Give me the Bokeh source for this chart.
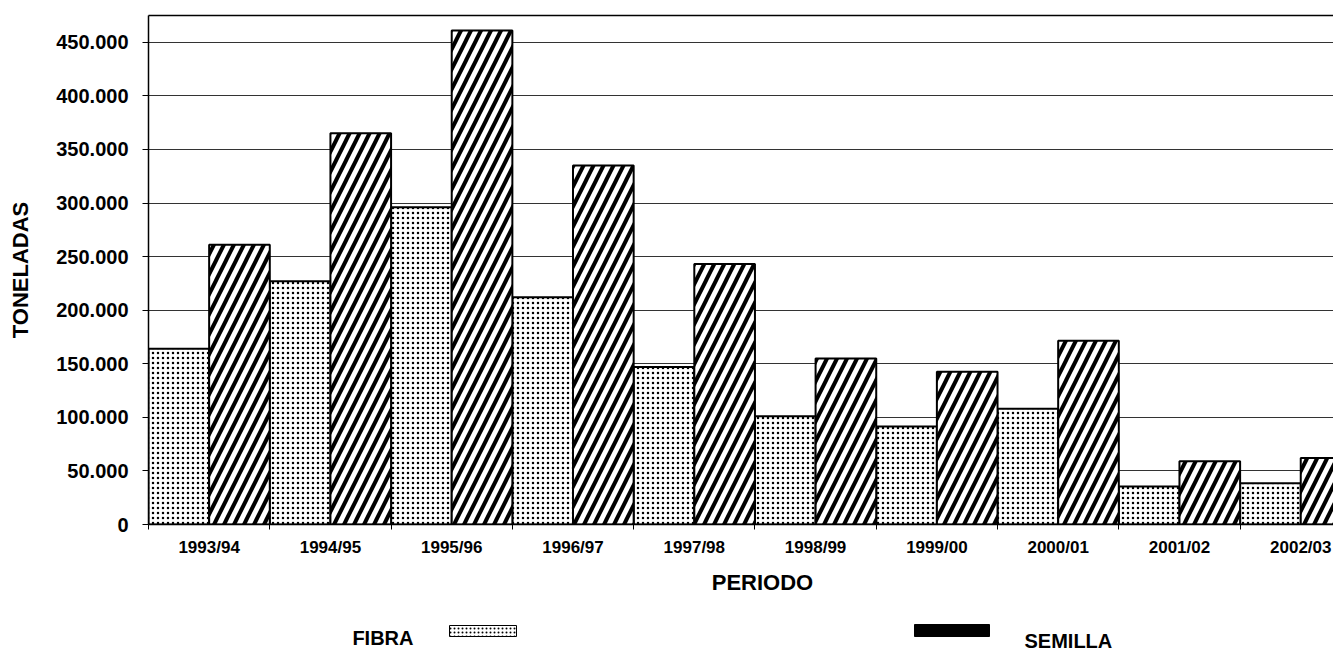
from bokeh.plotting import figure
from bokeh.models import Range1d, FixedTicker, LinearAxis
from bokeh.layouts import column
from bokeh.embed import file_html
from bokeh.resources import INLINE
from bokeh.core.properties import value

periodos = ["1993/94", "1994/95", "1995/96", "1996/97", "1997/98",
            "1998/99", "1999/00", "2000/01", "2001/02", "2002/03"]
fibra = [164000, 227000, 296000, 212000, 147000, 101000, 91500, 108000, 35500, 38500]
semilla = [261000, 365000, 461000, 335000, 243000, 155000, 142500, 171500, 59000, 62000]
y_ticks = [0, 50000, 100000, 150000, 200000, 250000, 300000, 350000, 400000, 450000]
y_tick_labels = ["0", "50.000", "100.000", "150.000", "200.000", "250.000",
                 "300.000", "350.000", "400.000", "450.000"]
x_title = "PERIODO"
y_title = "TONELADAS"
legend_labels = ["FIBRA", "SEMILLA"]

FONT = "Liberation Sans"

n = len(periodos)
idx = list(range(n))

p = figure(width=1333, height=570, output_backend="svg", toolbar_location=None,
           x_range=Range1d(0, 9.77), y_range=Range1d(0, 475000),
           min_border_left=148, min_border_right=0, min_border_top=15, min_border_bottom=46)
p.outline_line_color = None
p.background_fill_color = "white"
p.border_fill_color = "white"

# bars
p.quad(left=[i for i in idx], right=[i + 0.5 for i in idx], bottom=0, top=fibra,
       fill_color="white", line_color="black", line_width=2,
       hatch_pattern="dot", hatch_color="black", hatch_scale=5, hatch_weight=0.5)
p.quad(left=[i + 0.5 for i in idx], right=[i + 1 for i in idx], bottom=0, top=semilla,
       fill_color="white", line_color="black", line_width=2,
       hatch_pattern="right_diagonal_line", hatch_color="black", hatch_scale=20, hatch_weight=4)

# x axis
xa = p.xaxis[0]
xa.ticker = FixedTicker(ticks=[i + 0.5 for i in idx], minor_ticks=list(range(n + 1)))
xa.major_label_overrides = {i + 0.5: periodos[i] for i in idx}
xa.major_tick_out = 0
xa.major_tick_in = 0
xa.minor_tick_out = 5
xa.minor_tick_in = 0
xa.minor_tick_line_color = "black"
xa.axis_line_color = "black"
xa.axis_line_width = 1.5
xa.major_label_text_font = FONT
xa.major_label_text_font_style = "bold"
xa.major_label_text_font_size = "17px"
xa.major_label_text_color = "black"
xa.major_label_standoff = 8

# y axis
ya = p.yaxis[0]
ya.ticker = FixedTicker(ticks=y_ticks, minor_ticks=[])
ya.major_label_overrides = {t: l for t, l in zip(y_ticks, y_tick_labels)}
ya.major_tick_out = 6
ya.major_tick_in = 0
ya.major_tick_line_color = "black"
ya.axis_line_color = "black"
ya.axis_line_width = 1.5
ya.major_label_text_font = FONT
ya.major_label_text_font_style = "bold"
ya.major_label_text_font_size = "20px"
ya.major_label_text_color = "black"
ya.major_label_standoff = 14
ya.axis_label = y_title
ya.axis_label_text_font = FONT
ya.axis_label_text_font_style = "bold"
ya.axis_label_text_font_size = "22px"
ya.axis_label_text_color = "black"
ya.axis_label_standoff = 20

# top border line
top_axis = LinearAxis(ticker=FixedTicker(ticks=[]), major_label_text_font_size="0px",
                      axis_line_color="black", axis_line_width=1.5,
                      major_tick_out=0, major_tick_in=0, minor_tick_out=0, minor_tick_in=0,
                      major_label_standoff=0)
p.add_layout(top_axis, "above")

p.xgrid.grid_line_color = None
p.ygrid.ticker = FixedTicker(ticks=y_ticks)
p.ygrid.grid_line_color = "#333333"
p.ygrid.grid_line_width = 1

# strip below: x title and legend (coordinates in page pixels)
lg = figure(width=1333, height=82, output_backend="svg", toolbar_location=None,
            x_range=Range1d(148, 1333), y_range=Range1d(0, 82),
            min_border_left=148, min_border_right=0, min_border_top=0, min_border_bottom=0)
lg.outline_line_color = None
lg.axis.visible = False
lg.grid.grid_line_color = None
lg.background_fill_color = "white"
lg.border_fill_color = "white"
lg.text(x=[762], y=[70], text=[x_title], text_font=value(FONT), text_font_style="bold",
        text_font_size="22px", text_align="center", text_baseline="alphabetic", text_color="black")
lg.quad(left=[449], right=[516], bottom=[16], top=[27],
        fill_color="white", line_color="black", line_width=1,
        hatch_pattern="dot", hatch_color="black", hatch_scale=4, hatch_weight=0.5)
lg.quad(left=[914], right=[989], bottom=[16], top=[28], fill_color="black", line_color="black")
lg.text(x=[413], y=[15], text=[legend_labels[0]], text_font=value(FONT), text_font_style="bold",
        text_font_size="20px", text_align="right", text_baseline="alphabetic", text_color="black")
lg.text(x=[1024], y=[12], text=[legend_labels[1]], text_font=value(FONT), text_font_style="bold",
        text_font_size="20px", text_align="left", text_baseline="alphabetic", text_color="black")

layout = column(p, lg, spacing=0)
open("out.html", "w").write(file_html(layout, INLINE))
